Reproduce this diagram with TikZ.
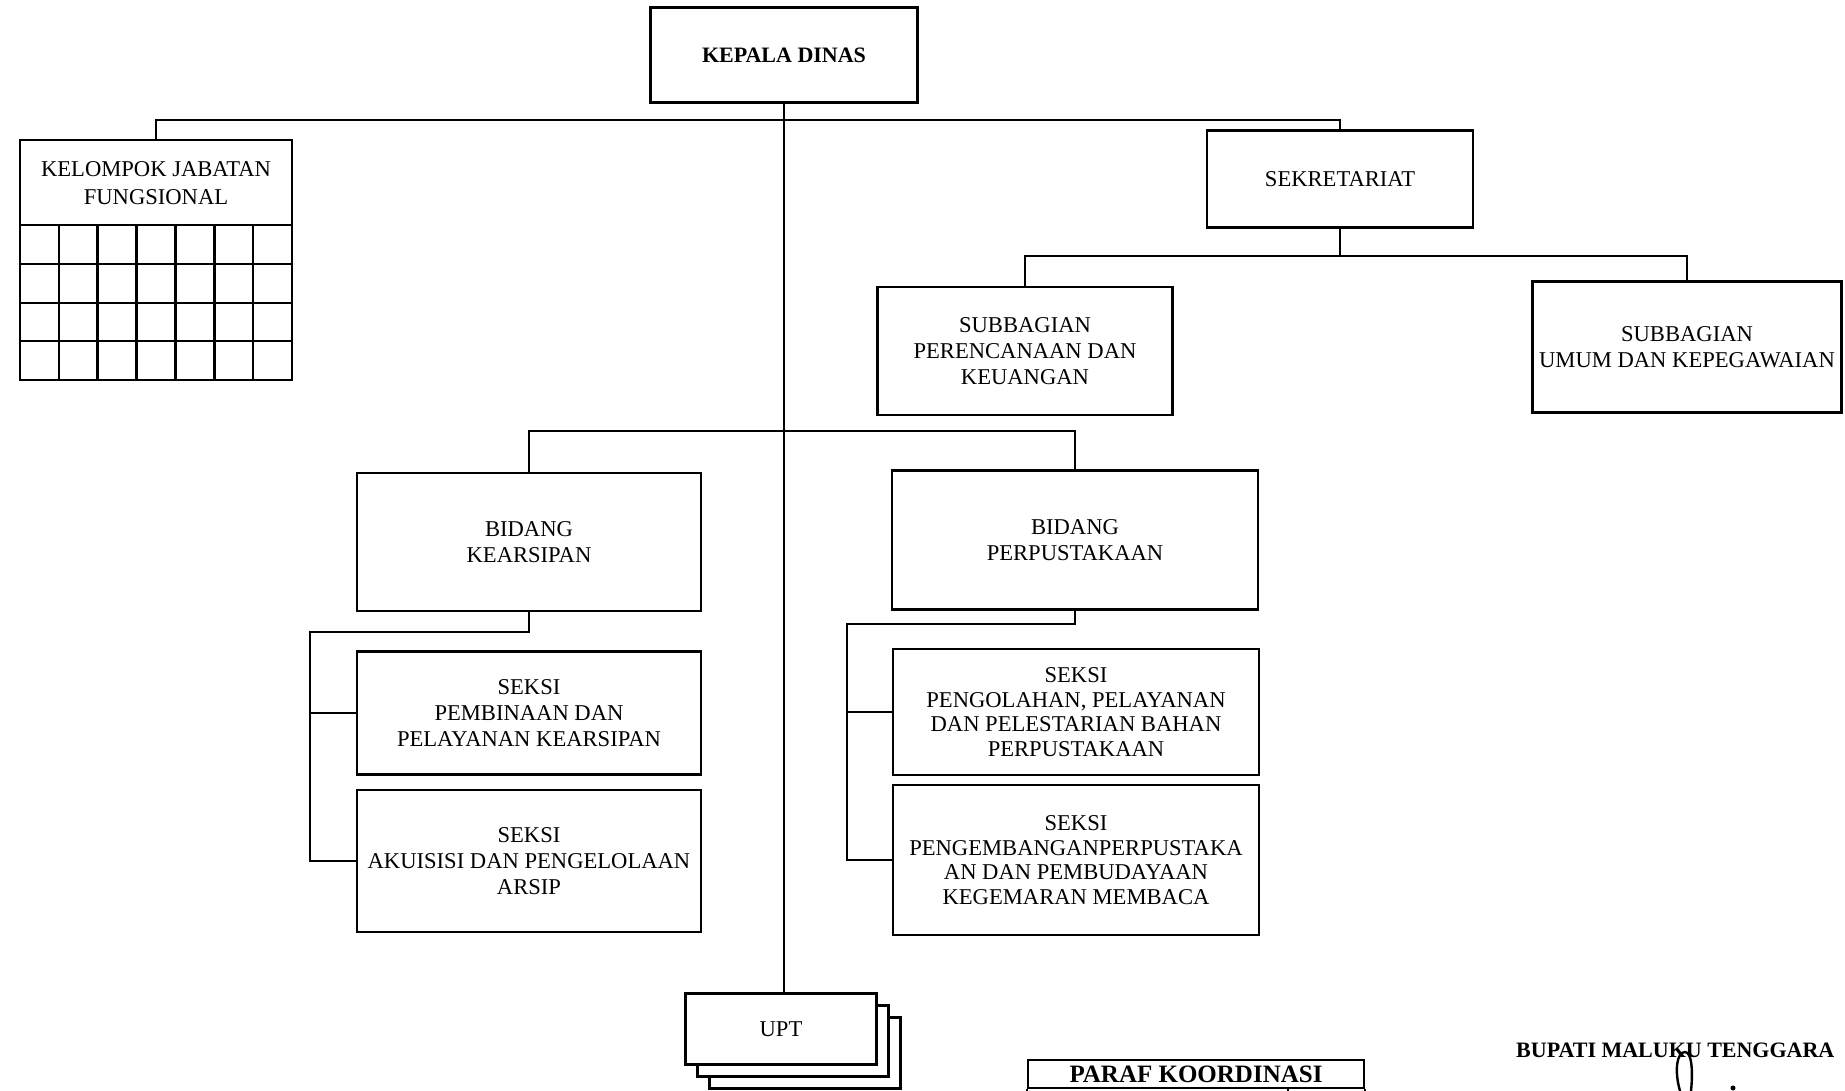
\documentclass[tikz,border=0pt]{standalone}
\usepackage{fontspec}
\setmainfont{Liberation Serif}
\usetikzlibrary{calc}
\begin{document}
\begin{tikzpicture}[x=1pt,y=-1pt,
  box/.style={draw, line width=2.6pt, rectangle, inner sep=0pt, align=center, fill=white,
    font=\fontsize{22.6}{26}\selectfont},
  lbl/.style={inner sep=0pt, align=center, font=\fontsize{22.6}{28}\selectfont},
  boldlbl/.style={inner sep=0pt, font=\fontsize{22}{26}\selectfont\bfseries},
  conn/.style={line width=2.6pt},
  ]
\useasboundingbox (0,0) rectangle (1845,1091);
\clip (0,0) rectangle (1845,1091);
\fill[white] (0,0) rectangle (1845,1091);

% head
\node[box, minimum width=267, minimum height=95, font=\fontsize{22}{26}\selectfont\bfseries] (kepala) at (784,55) {KEPALA DINAS};

% kelompok jabatan fungsional
\node[box, minimum width=272, minimum height=240] (kelompok) at (156,260) {};
\node[lbl] (kjftitle) at (156,183) {KELOMPOK JABATAN\\FUNGSIONAL};
\foreach \yy in {225,264,303,341} \draw[conn] (20,\yy) -- (292,\yy);
\foreach \k in {1,...,6} \draw[conn] ({20+\k*38.857},225) -- ({20+\k*38.857},380);

% sekretariat and subbagian
\node[box, minimum width=266, minimum height=97] (sekretariat) at (1340,179) {SEKRETARIAT};
\node[box, minimum width=295, minimum height=128] (perencanaan) at (1025,351) {SUBBAGIAN\\PERENCANAAN DAN\\KEUANGAN};
\node[box, minimum width=309, minimum height=131] (umum) at (1687,347) {SUBBAGIAN\\UMUM DAN KEPEGAWAIAN};

% bidang
\node[box, minimum width=344, minimum height=138] (kearsipan) at (529,542) {BIDANG\\KEARSIPAN};
\node[box, minimum width=366, minimum height=139] (perpustakaan) at (1075,540) {BIDANG\\PERPUSTAKAAN};

% seksi
\node[box, minimum width=344, minimum height=123] (pembinaan) at (529,713) {SEKSI\\PEMBINAAN DAN\\PELAYANAN KEARSIPAN};
\node[box, minimum width=344, minimum height=142] (akuisisi) at (529,861) {SEKSI\\AKUISISI DAN PENGELOLAAN\\ARSIP};
\node[box, minimum width=366, minimum height=126, font=\fontsize{22.6}{24.5}\selectfont] (pengolahan) at (1076,712) {SEKSI\\PENGOLAHAN, PELAYANAN\\DAN PELESTARIAN BAHAN\\PERPUSTAKAAN};
\node[box, minimum width=366, minimum height=150, font=\fontsize{22.6}{24.5}\selectfont] (pengembangan) at (1076,860) {SEKSI\\PENGEMBANGANPERPUSTAKA\\AN DAN PEMBUDAYAAN\\KEGEMARAN MEMBACA};

% UPT stack
\node[box, minimum width=191, minimum height=71] (upt3) at (805,1053) {};
\node[box, minimum width=191, minimum height=71] (upt2) at (793,1041) {};
\node[box, minimum width=191, minimum height=71] (upt) at (781,1029) {UPT};

% junction points
\coordinate (j1) at (786,120);
\coordinate (j2) at (1340,256);
\coordinate (j3) at (786,431);
\coordinate (k1) at (529,632);
\coordinate (k2) at (310,632);
\coordinate (p1) at (1075,624);
\coordinate (p2) at (847,624);

% connectors
\draw[conn] (kepala.south) -- (kepala.south |- upt.north);
\draw[conn] (kelompok.north) |- (j1) -| (sekretariat.north);
\draw[conn] (sekretariat.south) -- (j2);
\draw[conn] (perencanaan.north) |- (j2) -| (umum.north);
\draw[conn] (kearsipan.north) |- (j3) -| (perpustakaan.north);
\draw[conn] (kearsipan.south) -- (k1) -- (k2) |- (akuisisi.west);
\draw[conn] (k2 |- pembinaan.west) -- (pembinaan.west);
\draw[conn] (perpustakaan.south) -- (p1) -- (p2) |- (pengembangan.west);
\draw[conn] (p2 |- pengolahan.west) -- (pengolahan.west);

% paraf koordinasi table
\node[draw, line width=2.2pt, inner sep=0pt, minimum width=336, minimum height=28,
  font=\fontsize{25}{28}\selectfont\bfseries] (paraf) at (1196,1074) {PARAF KOORDINASI};
\coordinate (pdiv) at (1288,1088);
\draw[line width=2.2pt] (paraf.south west) -- ++(0,20);
\draw[line width=2.2pt] (paraf.south east) -- ++(0,20);
\draw[line width=2.2pt] (pdiv) -- ++(0,20);

% signature block
\node[boldlbl, anchor=west] (bupati) at (1516,1050) {BUPATI MALUKU TENGGARA};
\draw[line width=2.4pt, line cap=round] (1680,1091) .. controls (1674,1070) and (1677,1052) .. (1685,1052) .. controls (1692,1052) and (1693,1072) .. (1691,1091);
\fill (1733,1088) circle (2.5);
\end{tikzpicture}
\end{document}
